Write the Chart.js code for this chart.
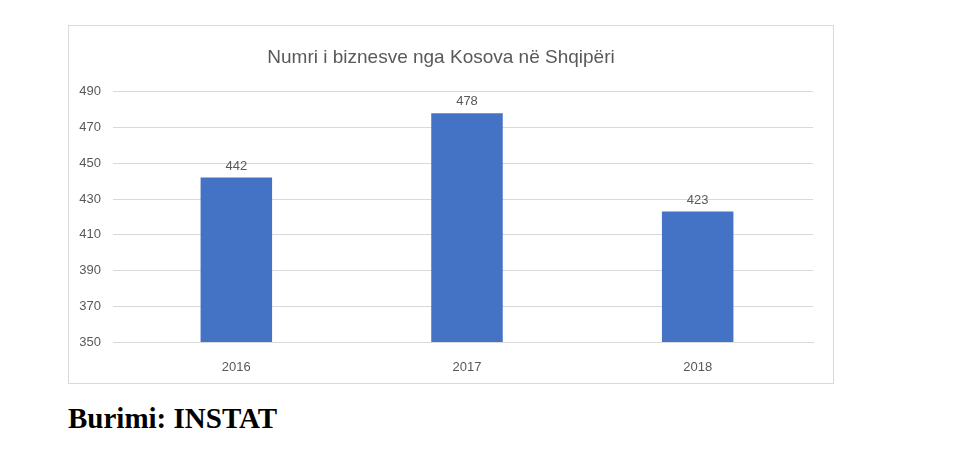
<!DOCTYPE html>
<html>
<head>
<meta charset="utf-8">
<script src="https://cdn.jsdelivr.net/npm/chart.js@4"></script>
<style>
  body { margin: 0; background: #fff; width: 980px; height: 450px; position: relative; font-family: "Liberation Sans", sans-serif; }
  #box { position: absolute; left: 68px; top: 25px; width: 766px; height: 359px; border: 1px solid #d9d9d9; box-sizing: border-box; }
  #source { position: absolute; left: 68px; top: 402px; font-family: "Liberation Serif", serif; font-weight: bold; font-size: 29px; color: #000; }
</style>
</head>
<body>
<div id="box"><canvas id="myChart"></canvas></div>
<div id="source">Burimi: INSTAT</div>
<script>
// Chart data
const years = ['2016', '2017', '2018'];
const businessCounts = [442, 478, 423];
const yTicks = [350, 370, 390, 410, 430, 450, 470, 490];

// Draw the value above each bar
const valueLabels = {
    id: 'valueLabels',
    afterDatasetsDraw(chart) {
        const ctx = chart.ctx;
        const meta = chart.getDatasetMeta(0);
        ctx.save();
        ctx.font = '13px "Liberation Sans", sans-serif';
        ctx.fillStyle = '#595959';
        ctx.textAlign = 'center';
        ctx.textBaseline = 'bottom';
        meta.data.forEach((bar, i) => {
            ctx.fillText(businessCounts[i], bar.x, bar.y - 5);
        });
        ctx.restore();
    }
};

const ctx = document.getElementById('myChart').getContext('2d');
new Chart(ctx, {
    type: 'bar',
    data: {
        labels: years,
        datasets: [{
            data: businessCounts,
            backgroundColor: '#4472C4',
            barPercentage: 0.31,
            categoryPercentage: 1
        }]
    },
    options: {
        responsive: true,
        maintainAspectRatio: false,
        animation: false,
        layout: { padding: { left: 0, right: 20, top: 0, bottom: 0 } },
        plugins: {
            legend: { display: false },
            tooltip: { enabled: false },
            title: {
                display: true,
                text: 'Numri i biznesve nga Kosova në Shqipëri',
                color: '#595959',
                font: { size: 19, weight: 'normal', family: '"Liberation Sans", sans-serif' },
                padding: { top: 20, bottom: 23 }
            }
        },
        scales: {
            x: {
                grid: { display: false },
                border: { color: '#d9d9d9' },
                ticks: { color: '#595959', font: { size: 13 }, padding: 10 },
                afterFit: (s) => { s.height = 41; }
            },
            y: {
                min: 350,
                max: 490,
                afterBuildTicks: (s) => { s.ticks = yTicks.map(v => ({ value: v })); },
                grid: { color: '#d9d9d9' },
                border: { display: false },
                ticks: { color: '#595959', font: { size: 13 }, padding: 12 },
                afterFit: (s) => { s.width = 52; }
            }
        }
    },
    plugins: [valueLabels]
});
</script>
</body>
</html>
